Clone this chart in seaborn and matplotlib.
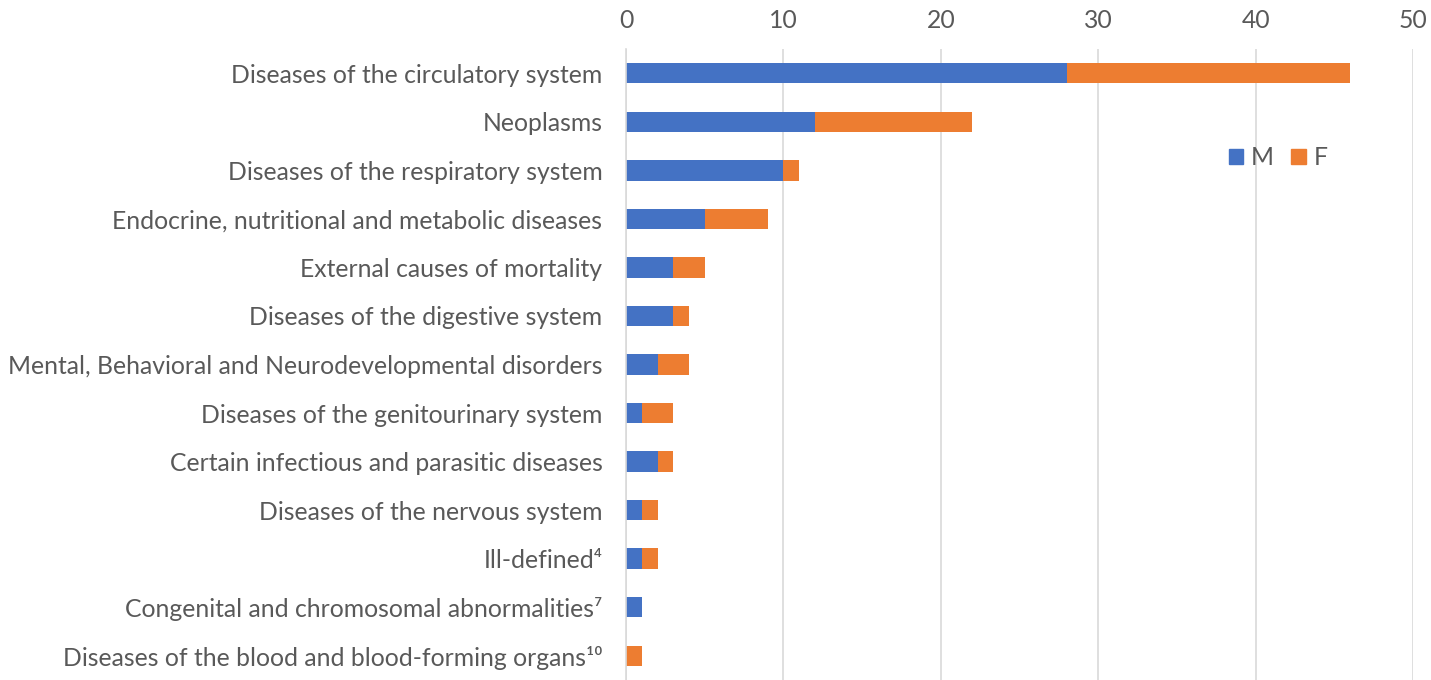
import pandas as pd
import seaborn as sns
import matplotlib.pyplot as plt
from matplotlib.patches import Patch

categories = [
    "Diseases of the circulatory system",
    "Neoplasms",
    "Diseases of the respiratory system",
    "Endocrine, nutritional and metabolic diseases",
    "External causes of mortality",
    "Diseases of the digestive system",
    "Mental, Behavioral and Neurodevelopmental disorders",
    "Diseases of the genitourinary system",
    "Certain infectious and parasitic diseases",
    "Diseases of the nervous system",
    "Ill-defined\u2074",
    "Congenital and chromosomal abnormalities\u2077",
    "Diseases of the blood and blood-forming organs\u00b9\u2070",
]
male = [28, 12, 10, 5, 3, 3, 2, 1, 2, 1, 1, 1, 0]
female = [18, 10, 1, 4, 2, 1, 2, 2, 1, 1, 1, 0, 1]
xticks = [0, 10, 20, 30, 40, 50]

blue = "#4472c4"
orange = "#ed7d31"
text_col = "#595959"

df = pd.DataFrame({"cause": categories, "M": male, "F": female})
df["total"] = df["M"] + df["F"]

sns.set_style("white")
plt.rcParams["font.family"] = ["Lato", "DejaVu Sans"]

fig = plt.figure(figsize=(14.31, 6.8), dpi=100)
ax = fig.add_axes([0.4375, 0.0, 0.5499, 0.928])

# stacked: total in orange underneath, male in blue on top
sns.barplot(data=df, y="cause", x="total", color=orange, width=0.42,
            saturation=1, linewidth=0, ax=ax, orient="h")
sns.barplot(data=df, y="cause", x="M", color=blue, width=0.42,
            saturation=1, linewidth=0, ax=ax, orient="h")

ax.set_xlim(0, 50)
ax.set_xticks(xticks)
ax.xaxis.tick_top()
ax.set_xlabel("")
ax.set_ylabel("")
ax.grid(axis="x", color="#d9d9d9", linewidth=1.2)
ax.set_axisbelow(True)
for s in ["top", "right", "bottom"]:
    ax.spines[s].set_visible(False)
ax.spines["left"].set_color("#d9d9d9")
ax.spines["left"].set_linewidth(1.2)
ax.tick_params(axis="both", length=0, labelsize=17.8, colors=text_col)
ax.tick_params(axis="y", pad=17)
ax.tick_params(axis="x", pad=12)
ax.set_ylim(12.5, -0.5)

handles = [Patch(color=blue, label="M"), Patch(color=orange, label="F")]
fig.legend(handles=handles, loc="center left", bbox_to_anchor=(0.843, 0.768),
           ncol=2, frameon=False, fontsize=17.8, labelcolor=text_col,
           handlelength=0.6, handleheight=0.6, handletextpad=0.3,
           columnspacing=0.7)

fig.savefig("out.png", dpi=100)
